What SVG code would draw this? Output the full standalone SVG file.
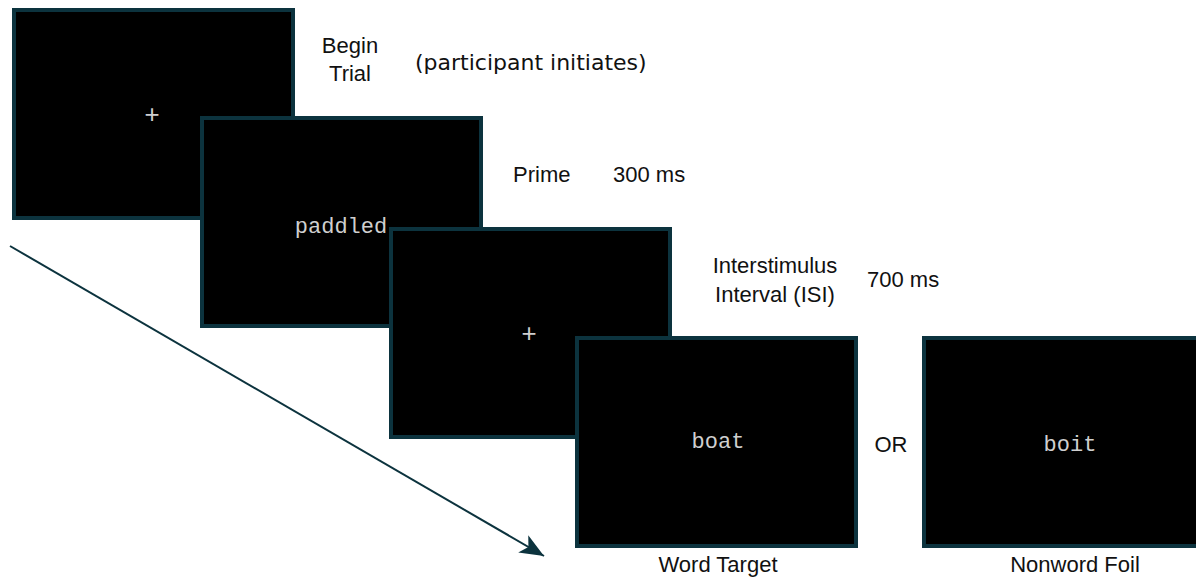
<svg xmlns="http://www.w3.org/2000/svg" width="1196" height="577" viewBox="0 0 1196 577">
  <style>
    .screen { fill: #000000; stroke: #0c333e; stroke-width: 4; }
    .label { font-family: "Liberation Sans", Arial, sans-serif; font-size: 22px; fill: #111111; }
    .note { font-family: "DejaVu Sans", sans-serif; font-size: 22px; fill: #111111; }
    .stim { font-family: "Liberation Mono", "Courier New", monospace; font-size: 22px; fill: #cfcfcf; text-anchor: middle; }
    .fix { font-family: "Liberation Mono", "Courier New", monospace; font-size: 26px; fill: #cfcfcf; text-anchor: middle; }
  </style>
  <defs>
    <marker id="arrowhead" markerUnits="userSpaceOnUse" markerWidth="26" markerHeight="22" refX="24" refY="10" orient="auto">
      <path d="M0,0 L24,10 L0,20 L6,10 Z" fill="#0c333e"/>
    </marker>
  </defs>
  <rect width="1196" height="577" fill="#ffffff"/>

  <g id="connectors">
    <line x1="10" y1="246" x2="544" y2="556" stroke="#0c333e" stroke-width="2" marker-end="url(#arrowhead)"/>
  </g>

  <g id="node-begin">
    <rect class="screen" x="14" y="10" width="279" height="208"/>
    <text class="fix" x="152" y="123">+</text>
    <text class="label" x="350" y="53" text-anchor="middle">Begin</text>
    <text class="label" x="350" y="81" text-anchor="middle">Trial</text>
    <text class="note" x="415" y="70">(participant initiates)</text>
  </g>

  <g id="node-prime">
    <rect class="screen" x="202" y="118" width="279" height="208"/>
    <text class="stim" x="341" y="233">paddled</text>
    <text class="label" x="513" y="182">Prime</text>
    <text class="label" x="613" y="182">300 ms</text>
  </g>

  <g id="node-isi">
    <rect class="screen" x="391" y="229" width="279" height="208"/>
    <text class="fix" x="529" y="342">+</text>
    <text class="label" x="775" y="273" text-anchor="middle">Interstimulus</text>
    <text class="label" x="775" y="302" text-anchor="middle">Interval (ISI)</text>
    <text class="label" x="867" y="287">700 ms</text>
  </g>

  <g id="node-target">
    <rect class="screen" x="577" y="338" width="279" height="208"/>
    <text class="stim" x="718" y="448">boat</text>
    <text class="label" x="718" y="572" text-anchor="middle">Word Target</text>
  </g>

  <g id="node-or">
    <text class="label" x="891" y="452" text-anchor="middle">OR</text>
  </g>

  <g id="node-foil">
    <rect class="screen" x="924" y="338" width="279" height="208"/>
    <text class="stim" x="1070" y="451">boit</text>
    <text class="label" x="1075" y="572" text-anchor="middle">Nonword Foil</text>
  </g>
</svg>
